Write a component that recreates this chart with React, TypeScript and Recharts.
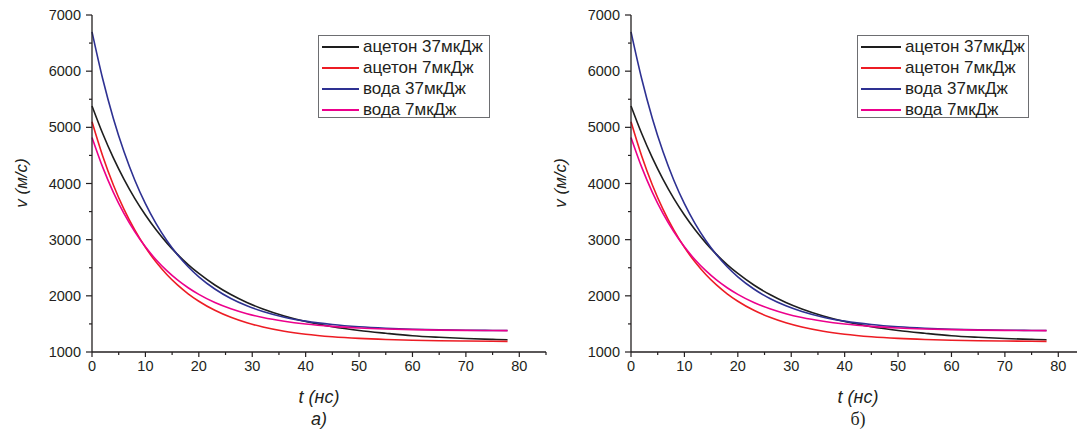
import { Line, LineChart, XAxis, YAxis } from 'recharts';

// час, нс
const t = [0, 2, 4, 6, 8, 10, 12, 14, 16, 18, 20, 23, 26, 29, 32, 36, 40, 45, 50, 55, 60, 65, 70, 75, 77.8];
// швидкість, м/с
const acetone37 = [5380, 4889, 4455, 4073, 3735, 3438, 3175, 2943, 2738, 2557, 2398, 2193, 2023, 1882, 1766, 1641, 1543, 1451, 1384, 1334, 1290, 1262, 1240, 1225, 1218];
const acetone7 = [5100, 4490, 3974, 3539, 3173, 2863, 2601, 2380, 2194, 2036, 1904, 1742, 1617, 1520, 1445, 1370, 1317, 1272, 1242, 1222, 1209, 1201, 1196, 1192, 1190];
const water37 = [6700, 5864, 5158, 4564, 4063, 3640, 3284, 2984, 2731, 2518, 2338, 2121, 1952, 1822, 1721, 1620, 1550, 1489, 1449, 1423, 1406, 1396, 1388, 1384, 1382];
const water7 = [4820, 4291, 3843, 3464, 3144, 2872, 2642, 2448, 2283, 2144, 2026, 1881, 1770, 1682, 1614, 1547, 1498, 1456, 1428, 1410, 1398, 1390, 1385, 1382, 1380];

const xTicks = [0, 5, 10, 15, 20, 25, 30, 35, 40, 45, 50, 55, 60, 65, 70, 75, 80, 85];
const yTicks = [1000, 1500, 2000, 2500, 3000, 3500, 4000, 4500, 5000, 5500, 6000, 6500, 7000];

const series = [
  { key: 'a37', name: 'ацетон 37мкДж', color: '#1e1e1e' },
  { key: 'a7', name: 'ацетон 7мкДж', color: '#ed1c24' },
  { key: 'w37', name: 'вода 37мкДж', color: '#2e3192' },
  { key: 'w7', name: 'вода 7мкДж', color: '#ec008c' },
];

const rows = t.map((v, i) => ({ t: v, a37: acetone37[i], a7: acetone7[i], w37: water37[i], w7: water7[i] }));

const ink = '#231f20';
const font = '"Liberation Sans", Arial, sans-serif';

function XTick(props: any) {
  const { x, y, payload } = props;
  const major = payload.value % 10 === 0;
  return (
    <g>
      <line x1={x} x2={x} y1={y} y2={y + (major ? 5 : 3)} stroke={ink} strokeWidth={1.2} />
      {major && (
        <text x={x} y={y + 19} textAnchor="middle" fontSize={14.5} fill={ink} fontFamily={font}>
          {payload.value}
        </text>
      )}
    </g>
  );
}

function YTick(props: any) {
  const { x, y, payload } = props;
  const major = payload.value % 1000 === 0;
  return (
    <g>
      <line x1={x - (major ? 6 : 3)} x2={x} y1={y} y2={y} stroke={ink} strokeWidth={1.2} />
      {major && (
        <text x={x - 11} y={y + 5} textAnchor="end" fontSize={14.5} fill={ink} fontFamily={font}>
          {payload.value}
        </text>
      )}
    </g>
  );
}

function LegendBox({ left, lineWidth }: { left: number; lineWidth: number }) {
  return (
    <div
      style={{
        position: 'absolute',
        left,
        top: 35,
        border: '1px solid #6d6e71',
        width: 170,
        height: 81,
        background: '#fff',
        fontFamily: font,
      }}
    >
      {series.map((s) => (
        <div key={s.key} style={{ height: 21, display: 'flex', alignItems: 'center' }}>
          <div style={{ width: lineWidth, marginLeft: 3, height: 2, background: s.color }} />
          <span style={{ marginLeft: 4, fontSize: 17, color: ink, lineHeight: '21px', whiteSpace: 'nowrap' }}>{s.name}</span>
        </div>
      ))}
    </div>
  );
}

function Panel({ left, caption, serifCaption }: { left: number; caption: string; serifCaption?: boolean }) {
  return (
    <div style={{ position: 'absolute', left, top: 0, width: 560, height: 432 }}>
      <LineChart width={560} height={432} data={rows} margin={{ top: 15, right: 14, left: 32, bottom: 50 }}>
        <XAxis
          type="number"
          dataKey="t"
          domain={[0, 85]}
          ticks={xTicks}
          interval={0}
          tickSize={0}
          tickMargin={0}
          tick={<XTick />}
          stroke={ink}
          strokeWidth={1.3}
          height={30}
        />
        <YAxis
          domain={[1000, 7000]}
          ticks={yTicks}
          interval={0}
          tickSize={0}
          tickMargin={0}
          tick={<YTick />}
          stroke={ink}
          strokeWidth={1.3}
          width={60}
        />
        {series.map((s) => (
          <Line
            key={s.key}
            type="monotone"
            dataKey={s.key}
            name={s.name}
            stroke={s.color}
            strokeWidth={1.6}
            dot={false}
            isAnimationActive={false}
          />
        ))}
      </LineChart>
      <LegendBox left={318} lineWidth={serifCaption ? 40 : 37} />
      <div
        style={{
          position: 'absolute',
          left: 22 - 60,
          top: 183 - 11,
          width: 120,
          height: 22,
          lineHeight: '22px',
          textAlign: 'center',
          transform: 'rotate(-90deg)',
          fontFamily: font,
          fontStyle: 'italic',
          fontSize: 17,
          color: ink,
        }}
      >
        v (м/с)
      </div>
      <div
        style={{
          position: 'absolute',
          left: 219,
          top: 386,
          width: 200,
          lineHeight: '22px',
          textAlign: 'center',
          fontFamily: font,
          fontStyle: 'italic',
          fontSize: 18,
          color: ink,
        }}
      >
        t (нс)
      </div>
      <div
        style={{
          position: 'absolute',
          left: 219,
          top: 408,
          width: 200,
          lineHeight: '22px',
          textAlign: 'center',
          fontFamily: serifCaption ? '"Liberation Serif", serif' : font,
          fontStyle: serifCaption ? 'normal' : 'italic',
          fontSize: 18,
          color: ink,
        }}
      >
        {caption}
      </div>
    </div>
  );
}

export default function App() {
  return (
    <div style={{ position: 'fixed', left: 0, top: 0, width: 1077, height: 432, overflow: 'hidden', background: '#fff' }}>
      <Panel left={0} caption="а)" />
      <Panel left={539} caption="б)" serifCaption />
    </div>
  );
}
